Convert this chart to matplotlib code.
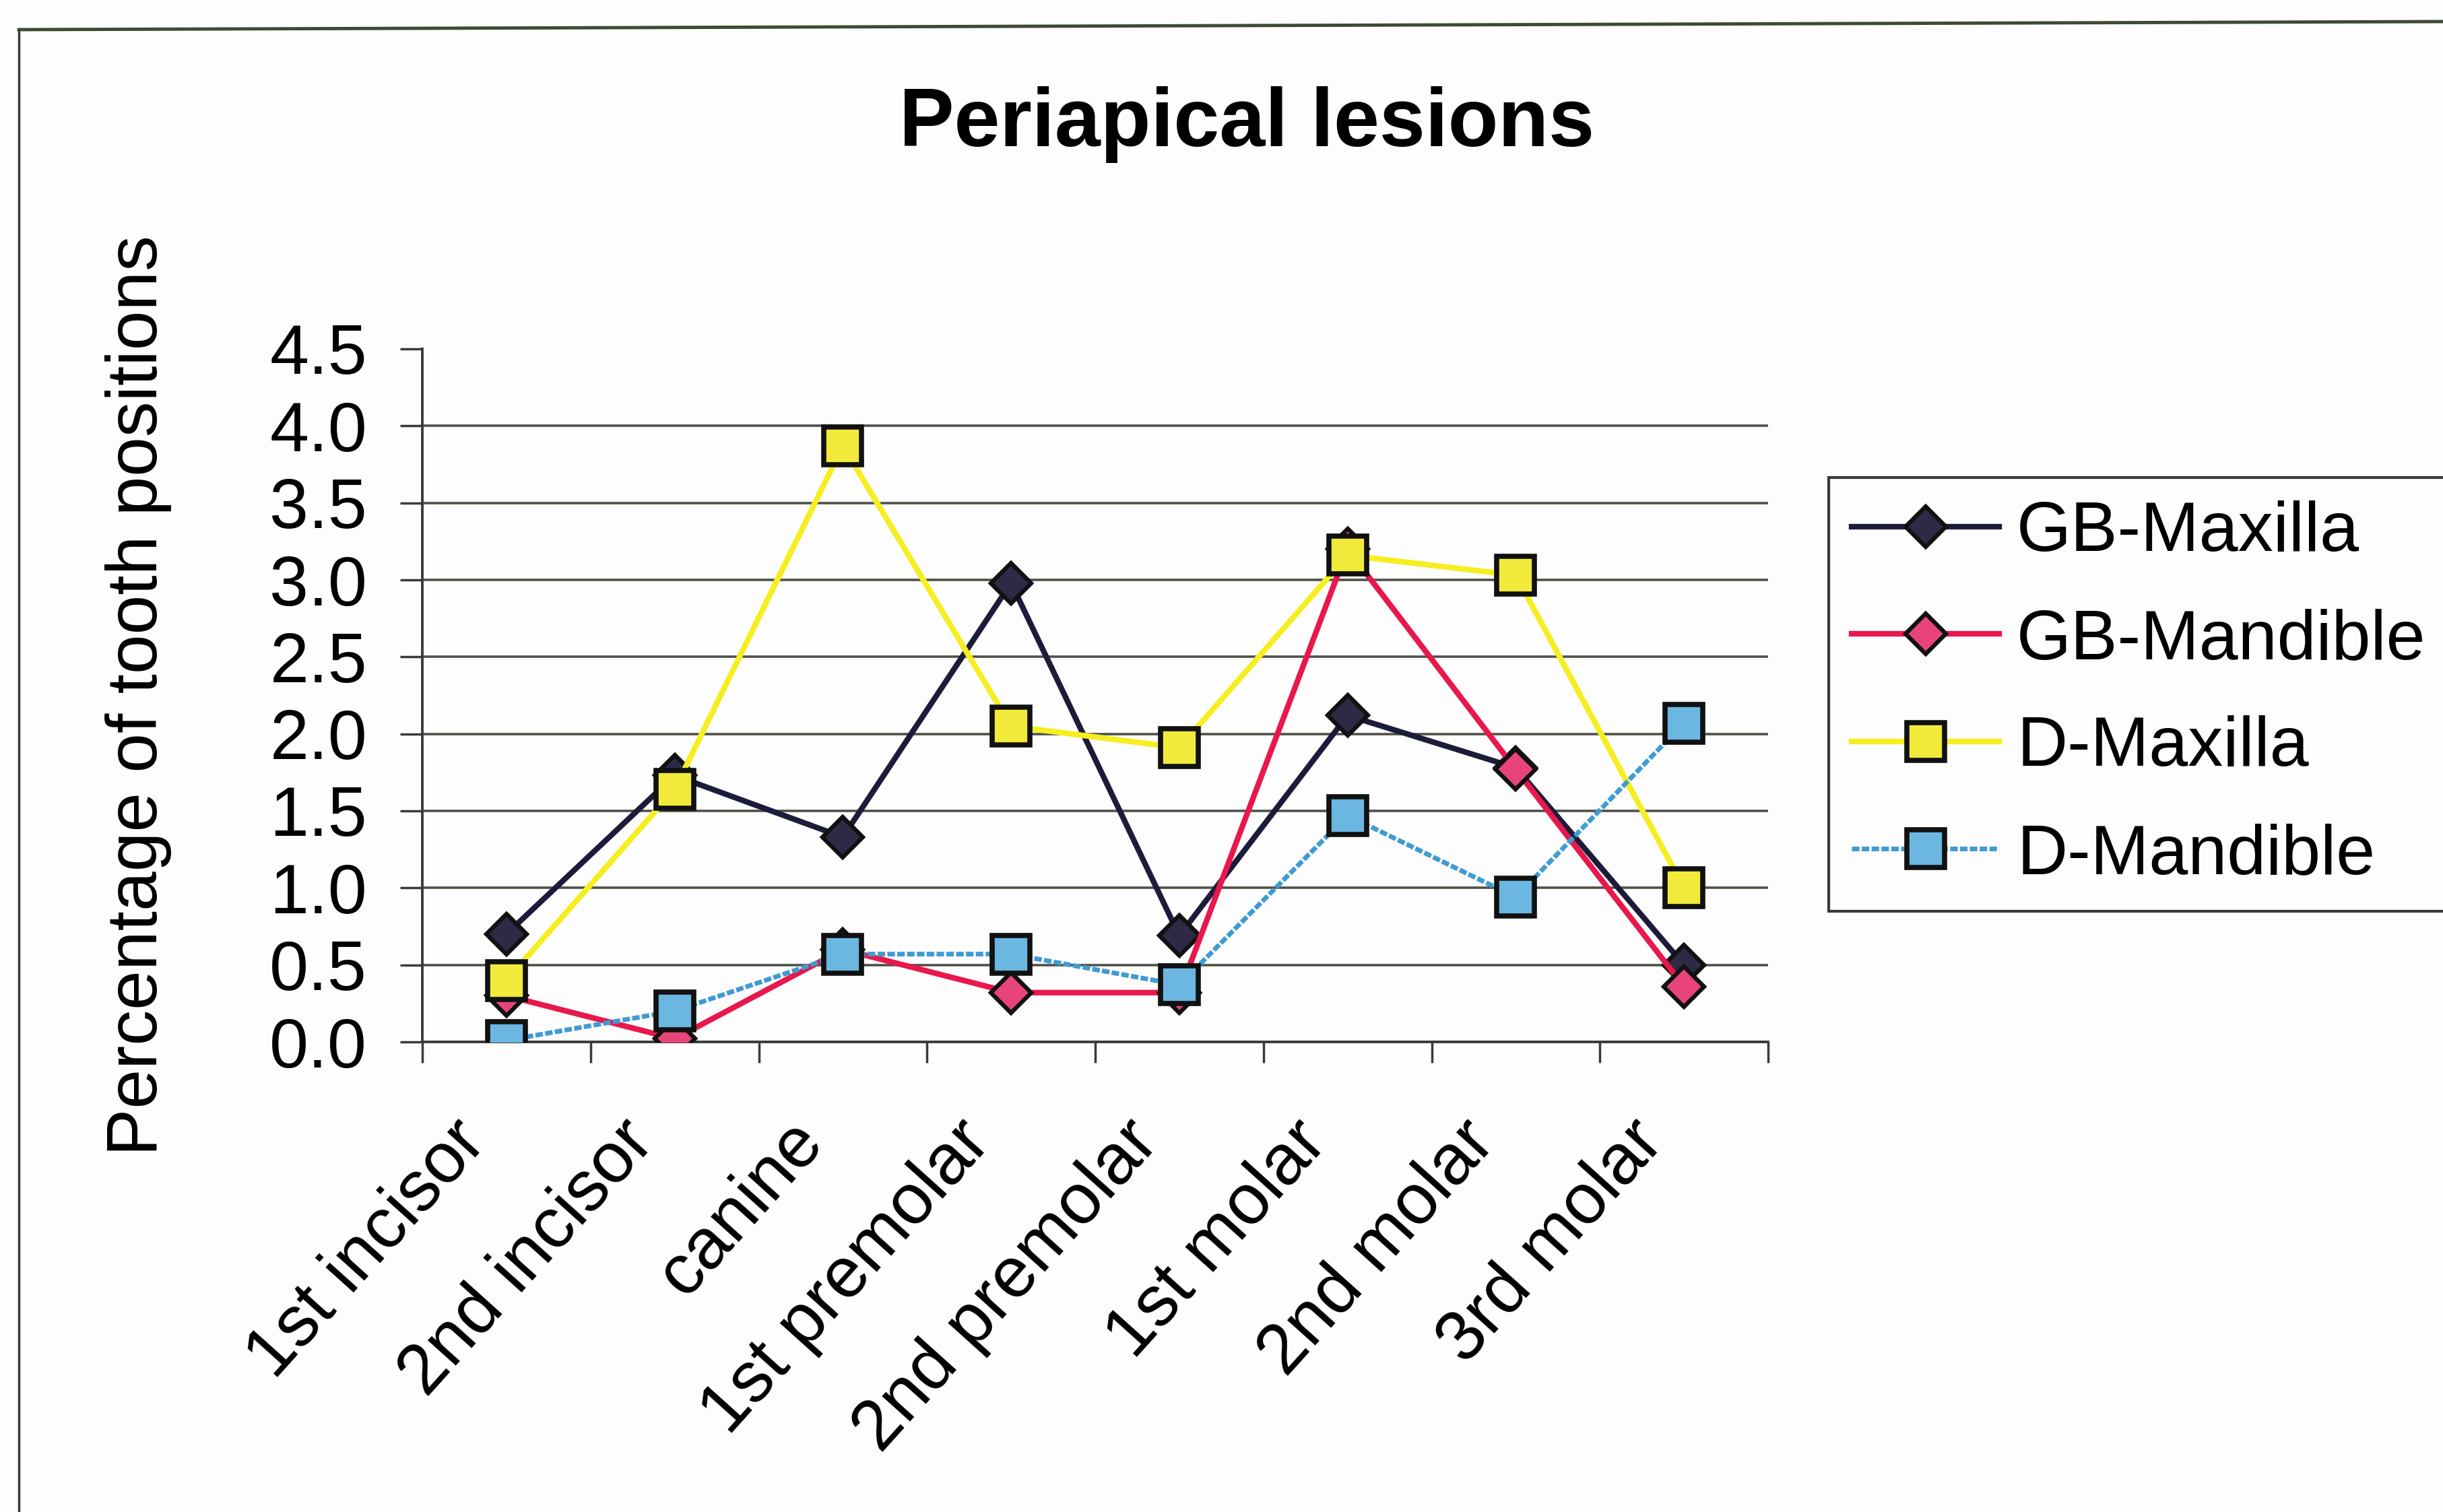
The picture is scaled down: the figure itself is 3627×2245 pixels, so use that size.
import matplotlib
matplotlib.use("Agg")
import matplotlib.pyplot as plt
from matplotlib.lines import Line2D
from matplotlib.transforms import ScaledTranslation
import numpy as np

plt.rcParams['font.family'] = ['Liberation Sans', 'DejaVu Sans']

categories = ["1st incisor", "2nd incisor", "canine", "1st premolar",
              "2nd premolar", "1st molar", "2nd molar", "3rd molar"]
gb_maxilla = [0.70, 1.73, 1.33, 2.98, 0.69, 2.12, 1.78, 0.50]
gb_mandible = [0.30, 0.02, 0.60, 0.32, 0.32, 3.20, 1.77, 0.36]
d_maxilla = [0.40, 1.64, 3.87, 2.05, 1.91, 3.16, 3.03, 1.00]
d_mandible = [0.01, 0.20, 0.57, 0.57, 0.37, 1.47, 0.94, 2.07]
yticks = [0.0, 0.5, 1.0, 1.5, 2.0, 2.5, 3.0, 3.5, 4.0, 4.5]
title = "Periapical lesions"
ylabel = "Percentage of tooth positions"

W, H = 3627, 2245
fig = plt.figure(figsize=(W / 100, H / 100), dpi=100)
fig.patch.set_facecolor('#fdfdfd')

ax = fig.add_axes([627 / W, 1 - 1547 / H, (2625 - 627) / W, (1547 - 518) / H])
ax.set_facecolor('none')
x = np.arange(len(categories))

grid_c = '#4f5048'
for yv in yticks[1:-1]:
    ax.axhline(yv, color=grid_c, lw=2.6, zorder=1)

fs = 75
ax.plot(x, gb_maxilla, color='#1c1c3a', lw=6, marker='D', ms=31,
        mfc='#2e2a45', mec='#111111', mew=4.5, zorder=3, label='GB-Maxilla')
ax.plot(x, gb_mandible, color='#e8174c', lw=6, marker='D', ms=31,
        mfc='#e84479', mec='#111111', mew=4.5, zorder=3, label='GB-Mandible')
ax.plot(x, d_maxilla, color='#f6ee1e', lw=6, marker='s', ms=41,
        mfc='#f2ea3a', mec='#111111', mew=5.5, zorder=4, label='D-Maxilla')
ax.plot(x, d_mandible, color='#3f9bd3', lw=5, ls=(0, (1.6, 0.5)), marker='s', ms=41,
        mfc='#6cb6e2', mec='#111111', mew=5.5, zorder=4, label='D-Mandible')

ax.set_xlim(-0.5, len(categories) - 0.5)
ax.set_ylim(0, 4.5)
ax.set_yticks(yticks)
ax.set_yticklabels([f"{v:.1f}" for v in yticks], fontsize=fs)
ax.set_xticks(x)
ax.set_xticks(np.arange(-0.5, len(categories)), minor=True)
ax.tick_params(axis='x', which='major', length=0, pad=0)
ax.tick_params(axis='x', which='minor', length=22, width=2.5, color='#3a3a3a', direction='out')
ax.tick_params(axis='y', length=24, width=2.5, color='#3a3a3a', pad=35, direction='out')
ax.set_xticklabels(categories, fontsize=fs + 1, rotation=48, ha='right', va='top',
                   rotation_mode='anchor')
off = ScaledTranslation(-0.84, -0.99, fig.dpi_scale_trans)
for lab in ax.get_xticklabels():
    lab.set_transform(lab.get_transform() + off)

for s in ['top', 'right']:
    ax.spines[s].set_visible(False)
for s in ['left', 'bottom']:
    ax.spines[s].set_color('#3a3a3a')
    ax.spines[s].set_linewidth(2.8)

ax.set_ylabel(ylabel, fontsize=fs + 1)
ax.yaxis.set_label_coords(-0.186, 0.5)

fig.text(1851 / W, 1 - 185 / H, title, fontsize=88, fontweight='bold',
         ha='center', va='center')

leg = ax.legend(loc='upper left', bbox_to_anchor=(2715 / W, 1 - 709 / H),
                bbox_transform=fig.transFigure, fontsize=fs, frameon=True,
                fancybox=False, shadow=False, handlelength=2.1,
                handletextpad=0.25, labelspacing=0.6, borderpad=0.33,
                borderaxespad=0)
leg.get_frame().set_edgecolor('#3a3a3a')
leg.get_frame().set_linewidth(3)
leg.get_frame().set_facecolor('#fdfdfd')
leg.get_frame().set_alpha(1)

# outer chart border
fig.add_artist(Line2D([28 / W, 1.0], [1 - 44 / H, 1 - 32 / H], color='#3e4a32',
                      lw=3.5, transform=fig.transFigure))
fig.add_artist(Line2D([28 / W, 28 / W], [1 - 44 / H, 0.0], color='#3a3a3a',
                      lw=2.5, transform=fig.transFigure))

fig.savefig("out.png", dpi=100, facecolor=fig.get_facecolor())
